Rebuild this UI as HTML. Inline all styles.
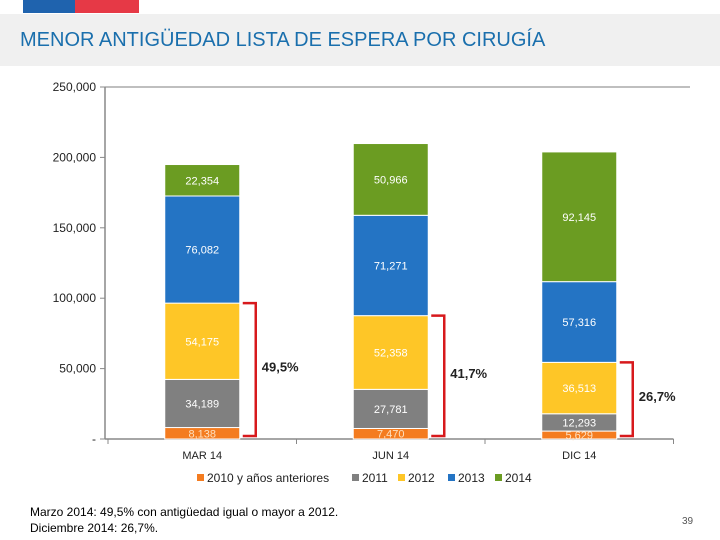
<!DOCTYPE html>
<html><head><meta charset="utf-8"><style>
body{margin:0;width:720px;height:540px;background:#fff;font-family:"Liberation Sans",sans-serif;overflow:hidden;position:relative}
</style></head><body>
<div style="position:absolute;left:23px;top:0;width:52px;height:13px;background:#1f63ae"></div>
<div style="position:absolute;left:75px;top:0;width:64px;height:13px;background:#e63946"></div>
<div style="position:absolute;left:0;top:14px;width:720px;height:52px;background:#f0f0f0"></div>
<div style="position:absolute;left:20px;top:29px;font-size:20px;color:#1a6fad">MENOR ANTIGÜEDAD LISTA DE ESPERA POR CIRUGÍA</div>
<svg id="chart" width="720" height="540" style="position:absolute;left:0;top:0"></svg>
<div style="position:absolute;left:30px;top:504px;font-size:12px;line-height:16px;color:#000">Marzo 2014: 49,5% con antigüedad igual o mayor a 2012.<br>Diciembre 2014: 26,7%.</div>
<div style="position:absolute;left:682px;top:516px;font-size:10px;color:#555">39</div>
<script>
const categories=["MAR 14","JUN 14","DIC 14"];
const seriesNames=["2010 y años anteriores","2011","2012","2013","2014"];
const s2010=[8138,7470,5629];
const s2011=[34189,27781,12293];
const s2012=[54175,52358,36513];
const s2013=[76082,71271,57316];
const s2014=[22354,50966,92145];
const percents=["49,5%","41,7%","26,7%"];
const ticks=[0,50000,100000,150000,200000,250000];
const tickLabels=["-","50,000","100,000","150,000","200,000","250,000"];
const colors=["#f47c20","#808080","#fec627","#2474c4","#6b9c22"];
const svg=document.getElementById('chart');const NS="http://www.w3.org/2000/svg";
function mk(t,a,txt){const e=document.createElementNS(NS,t);for(const k in a)e.setAttribute(k,a[k]);if(txt!=null)e.textContent=txt;svg.appendChild(e);return e;}
const y0=439,yTop=87,vmax=250000;
const y=v=>y0-(v/vmax)*(y0-yTop);
const x0=108,cw=188.5,bw=75;
const xc=i=>x0+cw*(i+0.5);
let e=mk('line',{x1:105,y1:y(250000),x2:690,y2:y(250000),stroke:'#aaa','stroke-width':1.5});

e=mk('line',{x1:105,y1:y(250000),x2:105,y2:y0,stroke:'#888','stroke-width':1.5});

e=mk('line',{x1:105,y1:y0,x2:x0+cw*3,y2:y0,stroke:'#888','stroke-width':1.5});

ticks.forEach((t,i)=>{
 e=mk('line',{x1:100,y1:y(t),x2:105,y2:y(t),stroke:'#888'});
 
 e=mk('text',{x:96,y:y(t)+4,'text-anchor':'end','font-size':12,fill:'#222'},tickLabels[i]);
 
});
for(let i=0;i<=3;i++){e=mk('line',{x1:x0+cw*i,y1:y0,x2:x0+cw*i,y2:y0+5,stroke:'#888'});
 }
const series=[s2010,s2011,s2012,s2013,s2014];
categories.forEach((c,i)=>{
 let acc=0;
 series.forEach((s,j)=>{
  const v=s[i];const top=y(acc+v),bot=y(acc);
  e=mk('rect',{x:xc(i)-bw/2,y:top,width:bw,height:bot-top,fill:colors[j],stroke:'#fff','stroke-width':1});
  
  const lx=j==3||j==4?xc(i)+(i==0&&j==4?0:0):xc(i);
  e=mk('text',{x:lx,y:(top+bot)/2+4,'text-anchor':'middle','font-size':11,fill:j==0?'#fde0c0':'#fff'},v.toLocaleString('en-US'));
  
  acc+=v;
 });
 e=mk('text',{x:xc(i),y:y0+20,'text-anchor':'middle','font-size':11,fill:'#222'},c);
 
 const topv=s2010[i]+s2011[i]+s2012[i];
 const bx=xc(i)+bw/2+16,ty=y(topv),by=y0-3;
 e=mk('polyline',{points:`${xc(i)+bw/2+3},${ty} ${bx},${ty} ${bx},${by} ${xc(i)+bw/2+3},${by}`,fill:'none',stroke:'#d7191c','stroke-width':2.5});
 
 e=mk('text',{x:bx+6,y:(ty+by)/2+2,'font-size':13,'font-weight':'bold',fill:'#222'},percents[i]);
 
});
const lxs=[197,352,398,448,495];
seriesNames.forEach((n,j)=>{
 e=mk('rect',{x:lxs[j],y:474,width:7,height:7,fill:colors[j]});
 
 e=mk('text',{x:lxs[j]+10,y:482,'font-size':12,fill:'#222'},n);
 
});
</script>
</body></html>
